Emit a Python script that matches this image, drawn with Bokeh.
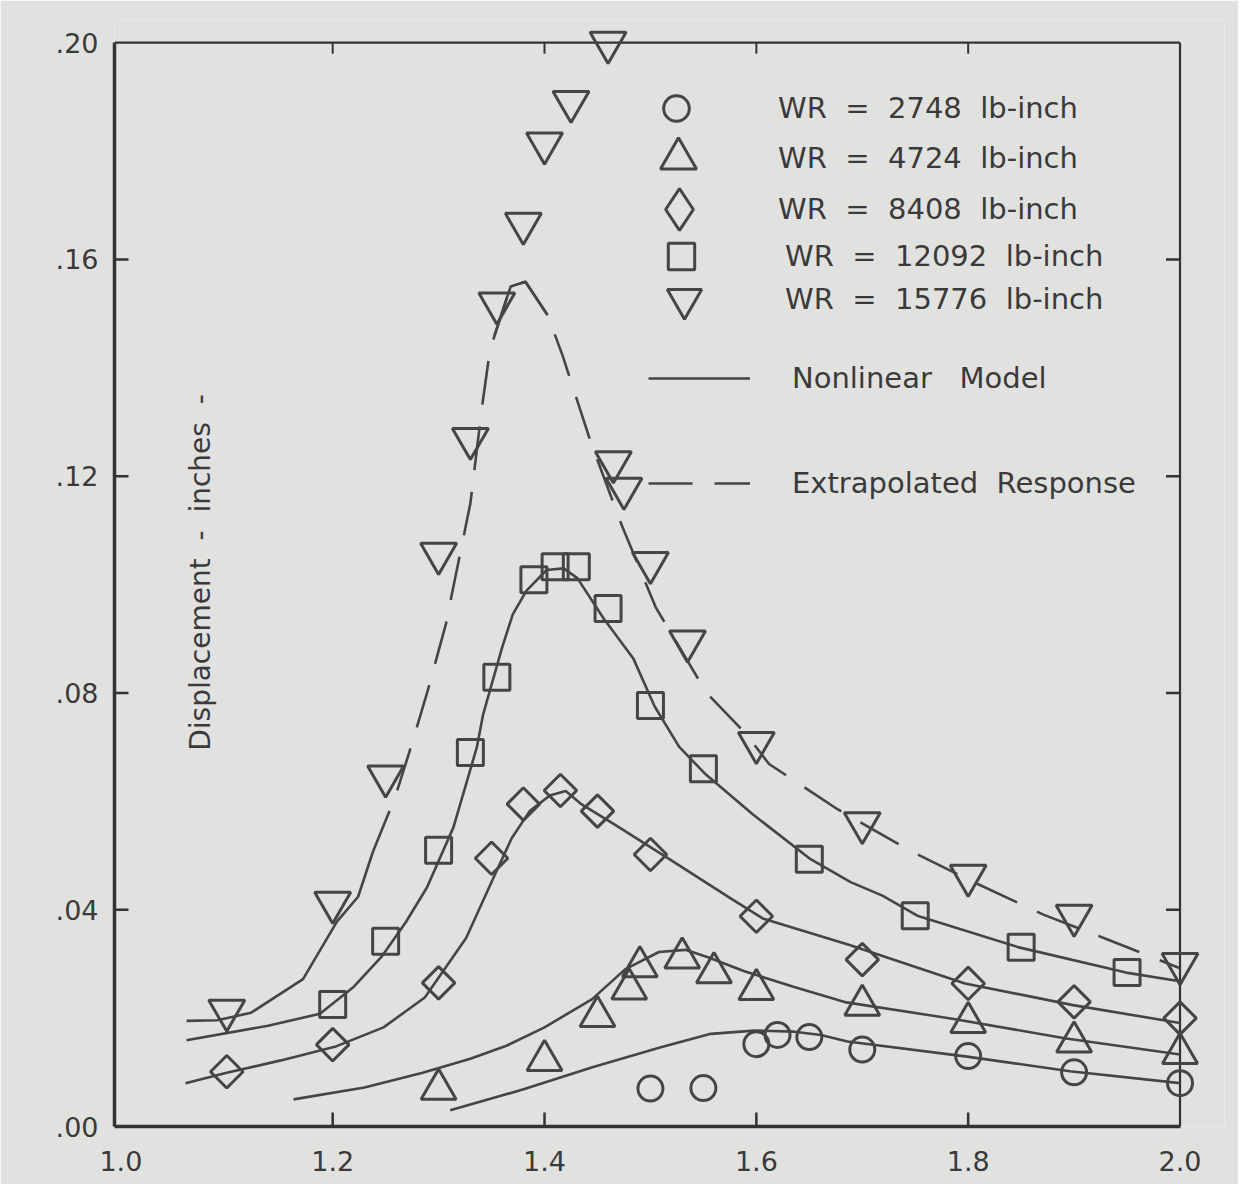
import math
from bokeh.plotting import figure
from bokeh.models import Range1d, FixedTicker, Legend, LegendItem, Label
from bokeh.core.properties import value
from bokeh.embed import file_html
from bokeh.resources import INLINE

NB = "\u00a0"

# ---------------- data ----------------
x_ticks = [1.0, 1.2, 1.4, 1.6, 1.8, 2.0]
x_tick_labels = ["1.0", "1.2", "1.4", "1.6", "1.8", "2.0"]
y_ticks = [0.0, 0.04, 0.08, 0.12, 0.16, 0.20]
y_tick_labels = [".00", ".04", ".08", ".12", ".16", ".20"]

series_labels = [
    "WR  =  2748  lb-inch",
    "WR  =  4724  lb-inch",
    "WR  =  8408  lb-inch",
    "WR  =  12092  lb-inch",
    "WR  =  15776  lb-inch",
]
line_labels = ["Nonlinear   Model", "Extrapolated  Response"]
y_axis_title = "Displacement  -  inches  -"

# measured points
wr2748_x = [1.50, 1.55, 1.60, 1.62, 1.65, 1.70, 1.80, 1.90, 2.00]
wr2748_y = [0.0070, 0.0071, 0.0152, 0.0169, 0.0165, 0.0142, 0.0130, 0.0100, 0.0080]

wr4724_x = [1.30, 1.40, 1.45, 1.48, 1.49, 1.53, 1.56, 1.60, 1.70, 1.80, 1.90, 2.00]
wr4724_y = [0.0069, 0.0122, 0.0203, 0.0254, 0.0295, 0.0311, 0.0284, 0.0253, 0.0224, 0.0192, 0.0156, 0.0135]

wr8408_x = [1.10, 1.20, 1.30, 1.35, 1.38, 1.415, 1.45, 1.50, 1.60, 1.70, 1.80, 1.90, 2.00]
wr8408_y = [0.0101, 0.0151, 0.0265, 0.0495, 0.0595, 0.0620, 0.0582, 0.0502, 0.0388, 0.0308, 0.0264, 0.0230, 0.0200]

wr12092_x = [1.20, 1.25, 1.30, 1.33, 1.355, 1.39, 1.41, 1.43, 1.46, 1.50, 1.55, 1.65, 1.75, 1.85, 1.95]
wr12092_y = [0.0225, 0.0342, 0.0510, 0.0690, 0.0829, 0.1009, 0.1033, 0.1033, 0.0956, 0.0777, 0.0660, 0.0493, 0.0389, 0.0331, 0.0284]

wr15776_x = [1.10, 1.20, 1.25, 1.30, 1.33, 1.355, 1.38, 1.40, 1.425, 1.46,
             1.465, 1.475, 1.50, 1.535, 1.60, 1.70, 1.80, 1.90, 2.00]
wr15776_y = [0.0214, 0.0413, 0.0646, 0.1057, 0.1269, 0.1519, 0.1666, 0.1814, 0.1891, 0.2000,
             0.1226, 0.1177, 0.1040, 0.0895, 0.0708, 0.0560, 0.0463, 0.0389, 0.0300]

# model curves (nonlinear model, solid)
model2748_x = [1.311, 1.381, 1.446, 1.509, 1.557, 1.598, 1.636, 1.661, 1.686, 1.799, 1.896, 2.000]
model2748_y = [0.0030, 0.0069, 0.0110, 0.0146, 0.0171, 0.0177, 0.0175, 0.0169, 0.0157, 0.0129, 0.0102, 0.0080]

model4724_x = [1.163, 1.230, 1.285, 1.330, 1.364, 1.400, 1.445, 1.476, 1.508, 1.533, 1.555,
               1.588, 1.635, 1.685, 1.785, 1.891, 2.000]
model4724_y = [0.0050, 0.0072, 0.0099, 0.0125, 0.0149, 0.0183, 0.0235, 0.0290, 0.0322, 0.0326, 0.0312,
               0.0287, 0.0258, 0.0229, 0.0199, 0.0163, 0.0133]

model8408_x = [1.061, 1.100, 1.151, 1.202, 1.248, 1.287, 1.326, 1.353, 1.369, 1.386, 1.405,
               1.420, 1.434, 1.469, 1.519, 1.575, 1.606, 1.688, 1.797, 1.899, 2.000]
model8408_y = [0.0080, 0.0099, 0.0122, 0.0147, 0.0183, 0.0238, 0.0348, 0.0464, 0.0532, 0.0582, 0.0611,
               0.0619, 0.0596, 0.0554, 0.0492, 0.0422, 0.0384, 0.0335, 0.0264, 0.0224, 0.0191]

model12092_x = [1.062, 1.139, 1.188, 1.220, 1.246, 1.269, 1.289, 1.314, 1.336, 1.342, 1.360, 1.370,
                1.383, 1.402, 1.418, 1.431, 1.456, 1.484, 1.504, 1.527, 1.551, 1.596, 1.650, 1.689,
                1.719, 1.752, 1.847, 1.949, 2.000]
model12092_y = [0.0159, 0.0186, 0.0208, 0.0258, 0.0313, 0.0377, 0.0441, 0.0552, 0.0699, 0.0760, 0.0884, 0.0945,
                0.0989, 0.1027, 0.1030, 0.1012, 0.0937, 0.0863, 0.0775, 0.0701, 0.0652, 0.0577, 0.0495, 0.0451,
                0.0426, 0.0389, 0.0331, 0.0284, 0.0268]

# WR = 15776 response (solid low part, dashed extrapolation, solid arc at peak)
extrap15776_x = [1.062, 1.091, 1.123, 1.172, 1.204, 1.224, 1.238, 1.259, 1.274, 1.290, 1.307, 1.312,
                 1.330, 1.341, 1.348, 1.353, 1.368, 1.382, 1.403, 1.417, 1.444, 1.473, 1.505, 1.553,
                 1.590, 1.612, 1.677, 1.745, 1.804, 1.871, 1.928, 2.000]
extrap15776_y = [0.0195, 0.0196, 0.0210, 0.0272, 0.0378, 0.0424, 0.0507, 0.0608, 0.0701, 0.0806, 0.0928, 0.0977,
                 0.1150, 0.1328, 0.1426, 0.1461, 0.1550, 0.1559, 0.1497, 0.1423, 0.1261, 0.1109, 0.0958, 0.0800,
                 0.0725, 0.0669, 0.0585, 0.0509, 0.0452, 0.0391, 0.0348, 0.0292]
solid_low_end = 7      # points [0:7] drawn solid
peak_arc = (15, 19)    # points [15:19] drawn solid

# ---------------- styling / layout ----------------
paper = "#e1e2e0"
ink = "#454545"
axis_col = "#333333"
text_col = "#3a3a3a"
font = "DejaVu Sans"

W, H = 1238, 1184
B_LEFT, B_RIGHT, B_TOP, B_BOTTOM = 114, 14, 20, 58
x_start, x_end = 0.994, 2.042
y_start, y_end = 0.0, 0.2041
fw = W - B_LEFT - B_RIGHT
fh = H - B_TOP - B_BOTTOM
xs = fw / (x_end - x_start)
ys = fh / (y_end - y_start)
FRAME_BOTTOM = B_TOP + fh   # canvas px of the frame bottom


def nb(s):
    return s.replace(" ", NB)


p = figure(width=W, height=H, x_range=Range1d(x_start, x_end), y_range=Range1d(y_start, y_end),
           output_backend="svg", toolbar_location=None,
           min_border_left=B_LEFT, min_border_right=B_RIGHT,
           min_border_top=B_TOP, min_border_bottom=B_BOTTOM)
p.background_fill_color = paper
p.border_fill_color = paper
p.outline_line_alpha = 0
p.grid.visible = False

x_lo, x_hi = x_ticks[0], x_ticks[-1]
y_lo, y_hi = y_ticks[0], y_ticks[-1]

for ax in (p.xaxis[0], p.yaxis[0]):
    ax.major_tick_in = 0
    ax.major_tick_out = 0
    ax.minor_tick_in = 0
    ax.minor_tick_out = 0
    ax.axis_line_width = 3.5
    ax.axis_line_color = axis_col
    ax.major_label_text_font = font
    ax.major_label_text_font_size = "27px"
    ax.major_label_text_color = text_col

p.xaxis.ticker = FixedTicker(ticks=x_ticks)
p.xaxis.major_label_overrides = {t: l for t, l in zip(x_ticks, x_tick_labels)}
p.xaxis.bounds = (x_start, x_hi)
p.xaxis.major_label_standoff = 24

p.yaxis.ticker = FixedTicker(ticks=y_ticks)
p.yaxis.major_label_overrides = {t: l for t, l in zip(y_ticks, y_tick_labels)}
p.yaxis.bounds = (y_lo, y_hi)
p.yaxis.major_label_standoff = 16

# top and right frame lines
p.line(x=[x_start, x_hi], y=[y_hi, y_hi], line_color=axis_col, line_width=2.2)
p.line(x=[x_hi, x_hi], y=[y_lo, y_hi], line_color=axis_col, line_width=2.2)

# inward ticks
inner_x = [t for t in x_ticks if x_lo < t < x_hi]
inner_y = [t for t in y_ticks if y_lo < t < y_hi]
tick_len = 14
p.segment(x0=inner_x, y0=[y_lo] * len(inner_x), x1=inner_x, y1=[y_lo + tick_len / ys] * len(inner_x),
          line_color=axis_col, line_width=2.5)
p.segment(x0=inner_x, y0=[y_hi] * len(inner_x), x1=inner_x, y1=[y_hi - 11 / ys] * len(inner_x),
          line_color=axis_col, line_width=2)
p.segment(x0=[x_start] * len(inner_y), y0=inner_y, x1=[x_start + tick_len / xs] * len(inner_y), y1=inner_y,
          line_color=axis_col, line_width=2.5)
p.segment(x0=[x_hi] * len(inner_y), y0=inner_y, x1=[x_hi - tick_len / xs] * len(inner_y), y1=inner_y,
          line_color=axis_col, line_width=2.5)

# curves
lw = 2.6
p.line(model2748_x, model2748_y, line_color=ink, line_width=lw)
p.line(model4724_x, model4724_y, line_color=ink, line_width=lw)
p.line(model8408_x, model8408_y, line_color=ink, line_width=lw)
m4 = p.line(model12092_x, model12092_y, line_color=ink, line_width=lw)
p.line(extrap15776_x[:solid_low_end], extrap15776_y[:solid_low_end], line_color=ink, line_width=lw)
p.line(extrap15776_x[peak_arc[0]:peak_arc[1]], extrap15776_y[peak_arc[0]:peak_arc[1]],
       line_color=ink, line_width=lw)
ext = p.line(extrap15776_x[solid_low_end - 1:], extrap15776_y[solid_low_end - 1:],
             line_color=ink, line_width=lw, line_dash="44 22")

# markers
mk = dict(line_color=ink, line_width=3, fill_alpha=0)
r1 = p.scatter(wr2748_x, wr2748_y, marker="circle", size=25, **mk)
r2 = p.scatter(wr4724_x, wr4724_y, marker="triangle", size=35, **mk)
r3 = p.scatter(wr8408_x, wr8408_y, marker="square", angle=math.pi / 4, size=23, **mk)
r4 = p.scatter(wr12092_x, wr12092_y, marker="square", size=26, **mk)
r5 = p.scatter(wr15776_x, wr15776_y, marker="inverted_triangle", size=36, **mk)
# legend key for the diamond series (rotation is not applied to legend keys)
r3_key = p.scatter([float("nan")], [float("nan")], marker="diamond", size=30, **mk)

# legend: one entry per row so each key can have its own size
# (key centre x, key centre y, key box, text x) in canvas pixels
key_layout = [(676, 108, 64, 778), (678, 158, 90, 778), (679, 209, 104, 778),
              (681, 256, 66, 785), (684, 299, 86, 785)]
key_renderers = [r1, r2, r3_key, r4, r5]
for lab, rend, (cx, cy, gb, tx) in zip(series_labels, key_renderers, key_layout):
    lg = Legend(items=[LegendItem(label=value(nb(lab)), renderers=[rend])],
                location=(int(cx - gb // 2 - B_LEFT), int(FRAME_BOTTOM - (cy + gb // 2))),
                glyph_width=int(gb), glyph_height=int(gb), label_standoff=int(tx - (cx + gb // 2)),
                padding=0, margin=0, border_line_alpha=0, background_fill_alpha=0,
                label_text_font=font, label_text_font_size="29px", label_text_color=text_col)
    p.add_layout(lg)

leg2 = Legend(items=[LegendItem(label=value(nb(line_labels[0])), renderers=[m4]),
                     LegendItem(label=value(nb(line_labels[1])), renderers=[ext])],
              location=(int(648 - B_LEFT), int(FRAME_BOTTOM - 503)), orientation="vertical",
              glyph_width=102, glyph_height=40, spacing=65, label_standoff=42,
              padding=0, margin=0, border_line_alpha=0, background_fill_alpha=0,
              label_text_font=font, label_text_font_size="29px", label_text_color=text_col)
p.add_layout(leg2)

# y axis title inside the frame
p.add_layout(Label(x=x_start + 86 / xs, y=(FRAME_BOTTOM - 572) / ys, text=nb(y_axis_title), angle=math.pi / 2,
                   text_align="center", text_baseline="middle", text_font=font,
                   text_font_size="28px", text_color=text_col))

open("out.html", "w").write(file_html(p, INLINE))
